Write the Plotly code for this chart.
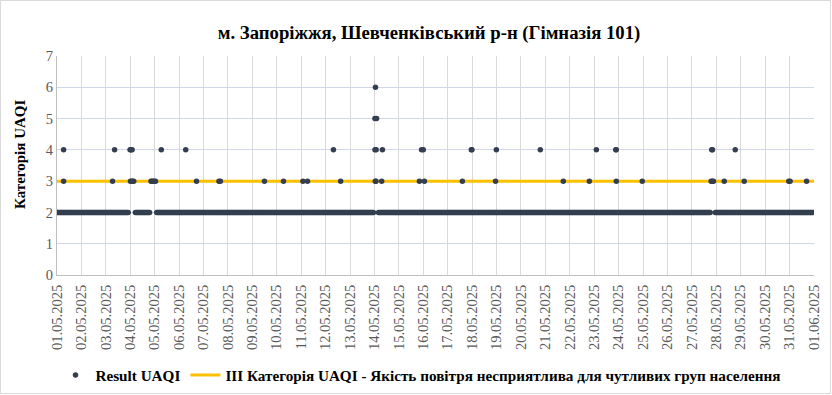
import plotly.graph_objects as go
from datetime import datetime, timedelta

# ---------------- data ----------------
title_text = "м. Запоріжжя, Шевченківський р-н (Гімназія 101)"
y_title = "Категорія UAQI"
series_name = "Result UAQI"
threshold_name = "III Категорія UAQI - Якість повітря несприятлива для чутливих груп населення"

period_start = "2025-05-01 00:00"
period_end = "2025-06-01 00:00"

tick_labels = ["01.05.2025", "02.05.2025", "03.05.2025", "04.05.2025", "05.05.2025",
               "06.05.2025", "07.05.2025", "08.05.2025", "09.05.2025", "10.05.2025",
               "11.05.2025", "12.05.2025", "13.05.2025", "14.05.2025", "15.05.2025",
               "16.05.2025", "17.05.2025", "18.05.2025", "19.05.2025", "20.05.2025",
               "21.05.2025", "22.05.2025", "23.05.2025", "24.05.2025", "25.05.2025",
               "26.05.2025", "27.05.2025", "28.05.2025", "29.05.2025", "30.05.2025",
               "31.05.2025", "01.06.2025"]

# hourly readings are category 2 except where listed below
baseline_value = 2
baseline_first = "2025-05-01 00:00"
baseline_last = "2025-05-31 23:00"
baseline_gaps = [("2025-05-03 23:00", "2025-05-04 04:00"),
                 ("2025-05-04 20:00", "2025-05-05 01:00"),
                 ("2025-05-14 00:00", "2025-05-14 03:00"),
                 ("2025-05-27 19:00", "2025-05-27 22:00")]

event_times = ["2025-05-01 06:30", "2025-05-01 06:30",
               "2025-05-03 06:36", "2025-05-03 08:36",
               "2025-05-03 23:48", "2025-05-04 00:48", "2025-05-04 01:48",
               "2025-05-04 00:12", "2025-05-04 01:18", "2025-05-04 02:24", "2025-05-04 03:24",
               "2025-05-04 20:24", "2025-05-04 21:30", "2025-05-04 22:36", "2025-05-04 23:42", "2025-05-05 00:48",
               "2025-05-05 06:30", "2025-05-06 06:30", "2025-05-06 17:06",
               "2025-05-07 15:12", "2025-05-07 16:36",
               "2025-05-09 11:54", "2025-05-10 06:36",
               "2025-05-11 01:42", "2025-05-11 06:12",
               "2025-05-12 07:42", "2025-05-12 14:48",
               "2025-05-14 01:00",
               "2025-05-14 00:30", "2025-05-14 02:06",
               "2025-05-14 00:30", "2025-05-14 01:42", "2025-05-14 07:48",
               "2025-05-14 00:48", "2025-05-14 01:30", "2025-05-14 07:06",
               "2025-05-15 20:12", "2025-05-16 01:06",
               "2025-05-15 22:18", "2025-05-16 00:00",
               "2025-05-17 14:24",
               "2025-05-17 23:12", "2025-05-17 23:48",
               "2025-05-18 23:00", "2025-05-18 23:48",
               "2025-05-20 19:00", "2025-05-21 17:36", "2025-05-22 19:12",
               "2025-05-23 02:06",
               "2025-05-23 21:12", "2025-05-23 21:36", "2025-05-23 21:42",
               "2025-05-24 23:12",
               "2025-05-27 18:54", "2025-05-27 20:00", "2025-05-27 21:12",
               "2025-05-27 19:30", "2025-05-27 20:12",
               "2025-05-28 07:48", "2025-05-28 18:36", "2025-05-29 03:24",
               "2025-05-30 23:12", "2025-05-31 00:30",
               "2025-05-31 16:42"]
event_values = [4, 3,
                3, 4,
                4, 4, 4,
                3, 3, 3, 3,
                3, 3, 3, 3, 3,
                4, 4, 3,
                3, 3,
                3, 3,
                3, 3,
                4, 3,
                6,
                5, 5,
                4, 4, 4,
                3, 3, 3,
                3, 3,
                4, 4,
                3,
                4, 4,
                3, 4,
                4, 3, 3,
                4,
                4, 4, 3,
                3,
                3, 3, 3,
                4, 4,
                3, 4, 3,
                3, 3,
                3]

threshold_value = 3

# ---------------- build series ----------------
fmt = "%Y-%m-%d %H:%M"
gaps = [(datetime.strptime(a, fmt), datetime.strptime(b, fmt)) for a, b in baseline_gaps]
t = datetime.strptime(baseline_first, fmt)
t_last = datetime.strptime(baseline_last, fmt)
points = []
while t <= t_last:
    if not any(a <= t <= b for a, b in gaps):
        points.append((t, baseline_value))
    t += timedelta(hours=1)
for et, ev in zip(event_times, event_values):
    points.append((datetime.strptime(et, fmt), ev))
points.sort(key=lambda p: p[0])
xs = [p[0] for p in points]
ys = [p[1] for p in points]

tick_vals = [datetime.strptime(period_start, fmt) + timedelta(days=i) for i in range(len(tick_labels))]

# ---------------- figure ----------------
W, H = 832, 395
ML, MR, MT, MB = 57, 18, 56, 120
PW, PH = W - ML - MR, H - MT - MB

SERIF = "Liberation Serif, Times New Roman, serif"
DOT = "#333F50"
GOLD = "#FFC000"

fig = go.Figure()
fig.add_trace(go.Scatter(
    x=[period_start, period_end], y=[threshold_value, threshold_value],
    mode="lines", name="<b>" + threshold_name + "</b>", line=dict(color=GOLD, width=3),
    legendrank=2, hoverinfo="skip"))
fig.add_trace(go.Scatter(
    x=xs, y=ys, mode="markers", name="<b>" + series_name + "</b>",
    marker=dict(color=DOT, size=5.5, line=dict(width=0)),
    legendrank=1))

def px_x(p):
    return (p - ML) / PW

def px_y(p):
    return (H - MB - p) / PH

fig.update_layout(
    width=W, height=H,
    margin=dict(l=ML, r=MR, t=MT, b=MB, autoexpand=False),
    paper_bgcolor="white", plot_bgcolor="white",
    font=dict(family=SERIF, color="#595959"),
    title=dict(text="<b>" + title_text + "</b>", x=429 / W, xanchor="center",
               y=1 - 32 / H, yanchor="middle", xref="container", yref="container",
               font=dict(family=SERIF, size=18.7, color="#000000")),
    showlegend=True,
    legend=dict(orientation="h", x=px_x(421), xanchor="center", y=px_y(375), yanchor="middle",
                font=dict(family=SERIF, size=15.2, color="#000000"),
                bgcolor="rgba(0,0,0,0)", itemwidth=30),
    xaxis=dict(type="date", range=[period_start, period_end],
               tickmode="array", tickvals=tick_vals, ticktext=tick_labels,
               tickangle=-90, tickfont=dict(family=SERIF, size=14.5, color="#595959"),
               ticklabelstandoff=3,
               showgrid=True, gridcolor="#D9D9D9", gridwidth=1,
               showline=True, linecolor="#BFBFBF", linewidth=1,
               ticks="", zeroline=False),
    yaxis=dict(range=[0, 7], dtick=1, tick0=0,
               tickfont=dict(family=SERIF, size=14.5, color="#595959"),
               showgrid=True, gridcolor="#D0D8E8", gridwidth=1,
               showline=True, linecolor="#BFBFBF", linewidth=1,
               ticks="", zeroline=False),
    annotations=[dict(text="<b>" + y_title + "</b>", textangle=-90,
                      xref="paper", yref="paper", x=px_x(20), y=px_y(155),
                      xanchor="center", yanchor="middle", showarrow=False,
                      font=dict(family=SERIF, size=15, color="#000000"))],
    shapes=[dict(type="rect", xref="paper", yref="paper",
                 x0=px_x(0.5), x1=px_x(W - 1.5), y0=px_y(H - 1.5), y1=px_y(0.5),
                 line=dict(color="#D9D9D9", width=1), fillcolor="rgba(0,0,0,0)", layer="below")],
)

fig.write_html("out.html", config={"displayModeBar": False},
               post_script="document.body.style.margin='0';document.body.style.padding='0';")
